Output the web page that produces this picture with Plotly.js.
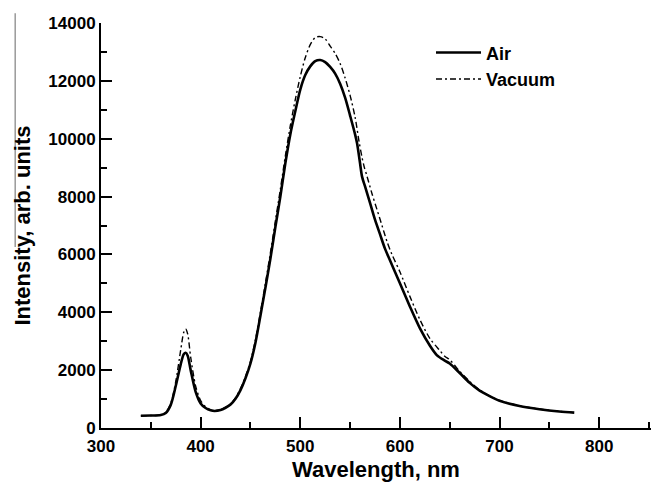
<!DOCTYPE html>
<html>
<head>
<meta charset="utf-8">
<script src="https://cdn.plot.ly/plotly-3.0.1.min.js"></script>
<style>html,body{margin:0;padding:0;background:#fff;}#chart{width:657px;height:482px;}</style>
</head>
<body>
<div id="chart"></div>
<script>
// Wavelength (nm) and intensity (arb. units)
const airWavelength = [340, 350, 360, 365, 370, 375, 380, 383, 385, 387, 390, 395, 400, 405, 410, 414, 420, 425, 430, 435, 440, 445, 450, 455, 460, 465, 470, 475, 480, 485, 490, 495, 500, 505, 510, 515, 520, 525, 530, 535, 540, 545, 550, 555, 557, 560, 562, 565, 570, 575, 580, 585, 590, 600, 610, 620, 630, 637, 645, 650, 660, 670, 680, 690, 700, 720, 740, 760, 775];
const airIntensity = [425, 430, 450, 520, 800, 1450, 2200, 2550, 2600, 2500, 2000, 1250, 850, 690, 610, 590, 620, 700, 810, 1010, 1310, 1720, 2230, 2950, 3880, 4850, 5850, 6950, 8000, 9150, 10150, 10950, 11700, 12200, 12500, 12680, 12720, 12650, 12480, 12250, 11900, 11420, 10800, 10150, 9840, 9150, 8690, 8350, 7780, 7200, 6700, 6200, 5800, 5000, 4200, 3450, 2850, 2520, 2330, 2230, 1900, 1560, 1290, 1100, 940, 760, 650, 570, 530];

const vacWavelength = [340, 350, 360, 365, 370, 375, 380, 383, 385, 387, 390, 395, 400, 405, 410, 414, 420, 425, 430, 435, 440, 445, 450, 455, 460, 465, 470, 475, 480, 485, 490, 495, 500, 505, 510, 515, 520, 525, 530, 535, 540, 545, 550, 555, 559, 562, 564, 567, 572, 577, 582, 587, 592, 600, 610, 620, 630, 640, 645, 650, 660, 670, 680, 690, 700, 720, 740, 760, 775];
const vacIntensity = [425, 430, 455, 540, 850, 1600, 2700, 3300, 3420, 3250, 2450, 1450, 950, 730, 630, 600, 630, 710, 830, 1040, 1360, 1780, 2300, 3050, 4000, 5000, 6050, 7150, 8250, 9400, 10450, 11350, 12150, 12800, 13250, 13500, 13530, 13450, 13200, 12950, 12600, 12100, 11500, 10750, 9900, 9350, 9050, 8700, 8100, 7550, 7000, 6450, 6000, 5400, 4550, 3750, 3100, 2680, 2480, 2360, 1960, 1610, 1320, 1110, 950, 770, 655, 575, 535];

const seriesNames = ["Air", "Vacuum"];
const xTickVals = [300, 400, 500, 600, 700, 800];
const yTickVals = [0, 2000, 4000, 6000, 8000, 10000, 12000, 14000];

const fontFam = "Liberation Sans, Arial, sans-serif";

const traces = [
  {x: airWavelength, y: airIntensity, name: seriesNames[0], type: "scatter", mode: "lines",
   line: {color: "#000", width: 2.6, shape: "spline", smoothing: 0.8}},
  {x: vacWavelength, y: vacIntensity, name: seriesNames[1], type: "scatter", mode: "lines",
   line: {color: "#000", width: 1.4, dash: "6px,3px,2px,3px", shape: "spline", smoothing: 0.8}}
];

const layout = {
  width: 657, height: 482,
  margin: {l: 101, r: 6, t: 23, b: 54},
  paper_bgcolor: "#fff", plot_bgcolor: "#fff",
  showlegend: true,
  legend: {x: 0.6, y: 0.972, xanchor: "left", yanchor: "top", bgcolor: "rgba(0,0,0,0)", itemwidth: 45,
           font: {family: fontFam, size: 18, color: "#000", weight: "bold"}, tracegroupgap: 0},
  xaxis: {
    range: [300, 852], tickvals: xTickVals, tickformat: "d", ticks: "inside", ticklen: 11, tickwidth: 2, tickcolor: "#000",
    showline: true, linecolor: "#000", linewidth: 2, showgrid: false, zeroline: false, ticklabelstandoff: 2,
    minor: {dtick: 50, tick0: 300, ticks: "inside", ticklen: 6, tickwidth: 2, tickcolor: "#000", showgrid: false},
    tickfont: {family: fontFam, size: 17, color: "#000", weight: "bold"},
    title: {text: "Wavelength, nm", font: {family: fontFam, size: 22, color: "#000", weight: "bold"}, standoff: 6}
  },
  yaxis: {
    range: [0, 14000], tickvals: yTickVals, tickformat: "d", ticks: "inside", ticklen: 11, tickwidth: 2, tickcolor: "#000",
    showline: true, linecolor: "#000", linewidth: 2, showgrid: false, zeroline: false,
    minor: {dtick: 1000, tick0: 0, ticks: "inside", ticklen: 6, tickwidth: 2, tickcolor: "#000", showgrid: false},
    tickfont: {family: fontFam, size: 17, color: "#000", weight: "bold"},
    title: {text: "Intensity, arb. units", font: {family: fontFam, size: 22, color: "#000", weight: "bold"}, standoff: 12}
  },
  shapes: [
    {type: "line", xref: "paper", yref: "paper", x0: -0.156, x1: -0.156, y0: 1.024, y1: 0.447,
     line: {color: "#999", width: 1.5}}
  ]
};

Plotly.newPlot("chart", traces, layout, {displayModeBar: false, staticPlot: true});
</script>
</body>
</html>
